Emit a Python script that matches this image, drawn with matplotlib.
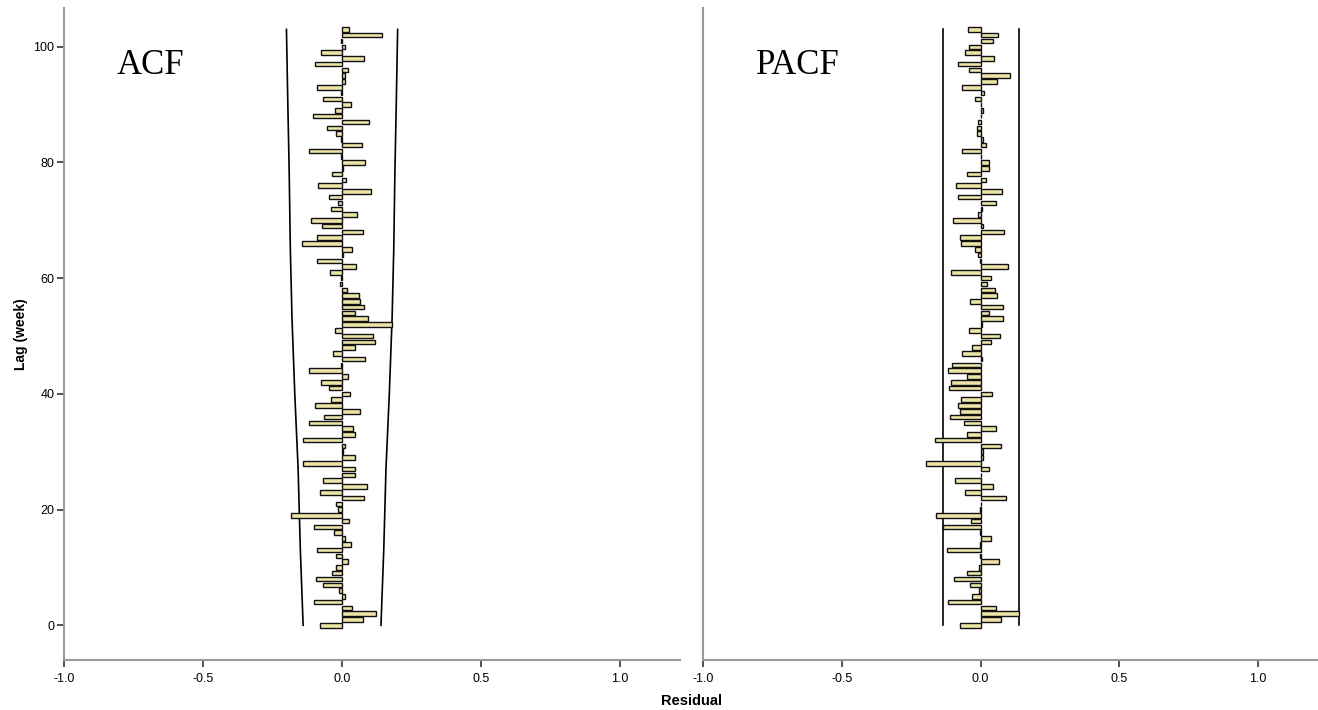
import numpy as np
import matplotlib
matplotlib.use("Agg")
import matplotlib.pyplot as plt

# residual autocorrelations, lag 0 .. 103
lags = np.arange(104)

acf = [-0.079, 0.075, 0.123, 0.035, -0.100, 0.010, -0.010, -0.070, -0.095, -0.035,
       -0.020, 0.020, -0.020, -0.090, 0.034, 0.012, -0.030, -0.100, 0.025, -0.185,
       -0.016, -0.020, 0.080, -0.078, 0.090, -0.070, 0.048, 0.048, -0.142, 0.045,
       0.005, 0.010, -0.140, 0.048, 0.040, -0.120, -0.065, 0.065, -0.097, -0.040,
       0.030, -0.046, -0.077, 0.020, -0.120, -0.005, 0.083, -0.032, 0.048, 0.118,
       0.110, -0.025, 0.180, 0.093, 0.048, 0.078, 0.066, 0.060, 0.018, -0.008,
       -0.003, -0.043, 0.050, -0.090, 0.004, 0.035, -0.145, -0.090, 0.075, -0.073,
       -0.112, 0.053, -0.040, -0.013, -0.048, 0.105, -0.088, 0.015, -0.036, 0.003,
       0.083, -0.003, -0.120, 0.070, -0.003, -0.022, -0.055, 0.098, -0.106, -0.025,
       0.034, -0.068, -0.003, -0.090, 0.010, 0.010, 0.022, -0.097, 0.078, -0.077,
       0.012, -0.005, 0.143, 0.024]

pacf = [-0.075, 0.072, 0.140, 0.055, -0.116, -0.030, -0.004, -0.037, -0.095, -0.050,
        -0.004, 0.065, -0.003, -0.120, -0.003, 0.037, -0.003, -0.135, -0.035, -0.160,
        -0.003, 0.003, 0.093, -0.055, 0.045, -0.093, 0.003, 0.030, -0.195, 0.010,
        0.010, 0.075, -0.163, -0.050, 0.055, -0.060, -0.110, -0.075, -0.080, -0.070,
        0.040, -0.113, -0.105, -0.050, -0.117, -0.104, 0.005, -0.068, -0.032, 0.036,
        0.070, -0.040, 0.005, 0.080, 0.030, 0.080, -0.038, 0.058, 0.053, 0.022,
        0.037, -0.106, 0.098, -0.003, -0.010, -0.020, -0.070, -0.075, 0.085, 0.010,
        -0.100, -0.010, 0.005, 0.054, -0.080, 0.078, -0.087, 0.020, -0.050, 0.030,
        0.030, 0.003, -0.068, 0.020, 0.010, -0.012, -0.012, -0.010, 0.003, 0.008,
        0.003, -0.020, 0.014, -0.068, 0.058, 0.105, -0.040, -0.083, 0.050, -0.055,
        -0.040, 0.045, 0.062, -0.045]

# confidence limits
acf_lim_lags = [0, 13, 27, 40, 53, 65, 78, 90, 103]
acf_lim = [0.140, 0.150, 0.158, 0.170, 0.180, 0.186, 0.190, 0.195, 0.200]
pacf_lim = 0.137

xticks = [-1.0, -0.5, 0.0, 0.5, 1.0]
yticks = [0, 20, 40, 60, 80, 100]

bar_face = "#ede4a8"
spine_col = "#9a9a9a"

plt.rcParams['font.family'] = ['Liberation Sans', 'DejaVu Sans']

fig = plt.figure(figsize=(13.18, 7.10), dpi=100)
ax1 = fig.add_axes([0.0486, 0.0704, 0.4674, 0.9183])
ax2 = fig.add_axes([0.5334, 0.0704, 0.4666, 0.9183])


def style(ax, vals, name):
    ax.barh(lags, vals, height=0.78, color=bar_face, edgecolor="#111111", linewidth=1.0, zorder=3)
    ax.set_xlim(-1.0, 1.216)
    ax.set_ylim(-6.0, 106.7)
    ax.set_xticks(xticks)
    ax.set_xticklabels(["%.1f" % t for t in xticks], fontsize=9)
    for s in ["top", "right"]:
        ax.spines[s].set_visible(False)
    ax.spines["left"].set_color(spine_col)
    ax.spines["bottom"].set_color(spine_col)
    ax.spines["left"].set_linewidth(1.5)
    ax.spines["bottom"].set_linewidth(1.5)
    ax.tick_params(axis="x", direction="out", length=5, width=1.2, color="#333333", pad=4)
    ax.text(-0.81, 95.3, name, family="Liberation Serif", fontsize=25, va="baseline", ha="left")


style(ax1, acf, "ACF")
style(ax2, pacf, "PACF")

ax1.plot(acf_lim, acf_lim_lags, color="black", lw=1.2, zorder=2)
ax1.plot([-v for v in acf_lim], acf_lim_lags, color="black", lw=1.2, zorder=2)

ax2.plot([pacf_lim, pacf_lim], [0, 103], color="black", lw=1.2, zorder=2)
ax2.plot([-pacf_lim, -pacf_lim], [0, 103], color="black", lw=1.2, zorder=2)

ax1.set_yticks(yticks)
ax1.set_yticklabels([str(t) for t in yticks], fontsize=9)
ax1.tick_params(axis="y", direction="out", length=5, width=1.2, color="#333333", pad=2)
ax2.set_yticks([])

ax1.set_ylabel("Lag (week)", fontsize=10, fontweight="bold", labelpad=4)
fig.text(0.525, 0.003, "Residual", fontsize=10.5, fontweight="bold", ha="center", va="bottom")

fig.savefig("out.png", dpi=100)
